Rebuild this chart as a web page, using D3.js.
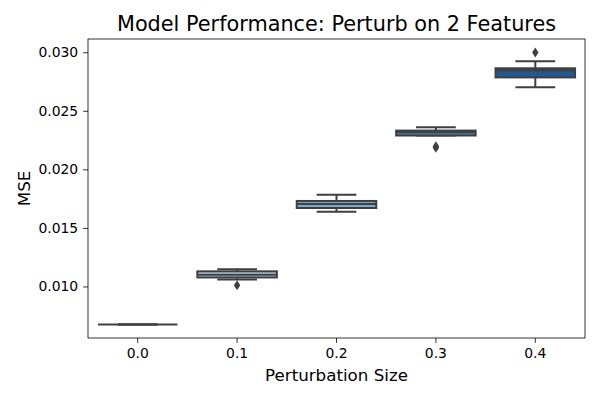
<!DOCTYPE html>
<html>
<head>
<meta charset="utf-8">
<script src="https://cdn.jsdelivr.net/npm/d3@7"></script>
<style>
  body { margin: 0; background: #fff; }
  text { font-family: "DejaVu Sans", sans-serif; fill: #000; }
</style>
</head>
<body>
<div id="chart"></div>
<script>
// data (box summaries per perturbation size)
var categories = ["0.0", "0.1", "0.2", "0.3", "0.4"];
var whiskerLow = [0.00676, 0.01060, 0.01638, 0.02288, 0.02700];
var q1 = [0.00676, 0.01077, 0.01670, 0.02289, 0.02785];
var median = [0.00676, 0.01100, 0.01704, 0.02316, 0.02846];
var q3 = [0.00676, 0.01129, 0.01730, 0.02331, 0.02863];
var whiskerHigh = [0.00676, 0.01146, 0.01784, 0.02359, 0.02923];
var outliers = [[], [0.01011], [], [0.02185, 0.02198], [0.02997]];
var boxColors = ["#dde8f3", "#b0cde0", "#79a9cc", "#4383b6", "#22578f"];
var yTicks = [0.010, 0.015, 0.020, 0.025, 0.030];

var W = 600, H = 400;
var margin = { top: 39, right: 15, bottom: 62, left: 88 };
var width = W - margin.left - margin.right;
var height = H - margin.top - margin.bottom;
var lineColor = "#3f3f3f";

var svg = d3.select("#chart").append("svg")
  .attr("width", W)
  .attr("height", H);

var g = svg.append("g")
  .attr("transform", "translate(" + margin.left + "," + margin.top + ")");

// y domain like matplotlib autoscale: data range plus 5% each side
var allVals = whiskerLow.concat(whiskerHigh, d3.merge(outliers));
var lo = d3.min(allVals), hi = d3.max(allVals);
var pad = (hi - lo) * 0.05;

var x = d3.scaleBand()
  .domain(categories)
  .range([0, width])
  .padding(0);

var y = d3.scaleLinear()
  .domain([lo - pad, hi + pad])
  .range([height, 0]);

var boxW = x.bandwidth() * 0.8;

var rows = categories.map(function(c, i) {
  return { cat: c, lo: whiskerLow[i], q1: q1[i], med: median[i], q3: q3[i],
           hi: whiskerHigh[i], out: outliers[i], color: boxColors[i] };
});

var box = g.selectAll(".box")
  .data(rows)
  .enter().append("g")
  .attr("class", "box")
  .attr("transform", function(d) {
    return "translate(" + (x(d.cat) + x.bandwidth() / 2) + ",0)";
  });

// whiskers
box.append("line")
  .attr("x1", 0).attr("x2", 0)
  .attr("y1", function(d) { return y(d.q3); })
  .attr("y2", function(d) { return y(d.hi); })
  .attr("stroke", lineColor).attr("stroke-width", 2);
box.append("line")
  .attr("x1", 0).attr("x2", 0)
  .attr("y1", function(d) { return y(d.q1); })
  .attr("y2", function(d) { return y(d.lo); })
  .attr("stroke", lineColor).attr("stroke-width", 2);

// caps
[function(d) { return y(d.hi); }, function(d) { return y(d.lo); }].forEach(function(fy) {
  box.append("line")
    .attr("x1", -boxW / 4).attr("x2", boxW / 4)
    .attr("y1", fy).attr("y2", fy)
    .attr("stroke", lineColor).attr("stroke-width", 2);
});

// boxes
box.append("rect")
  .attr("x", -boxW / 2)
  .attr("width", boxW)
  .attr("y", function(d) { return y(d.q3); })
  .attr("height", function(d) { return Math.max(0, y(d.q1) - y(d.q3)); })
  .attr("fill", function(d) { return d.color; })
  .attr("stroke", lineColor)
  .attr("stroke-width", 2);

// medians
box.append("line")
  .attr("x1", -boxW / 2).attr("x2", boxW / 2)
  .attr("y1", function(d) { return y(d.med); })
  .attr("y2", function(d) { return y(d.med); })
  .attr("stroke", lineColor).attr("stroke-width", 2);

// outliers (thin diamonds)
box.selectAll(".flier")
  .data(function(d) { return d.out; })
  .enter().append("path")
  .attr("class", "flier")
  .attr("d", function(v) {
    var cy = y(v);
    return "M0," + (cy - 5) + "L3.2," + cy + "L0," + (cy + 5) + "L-3.2," + cy + "Z";
  })
  .attr("fill", lineColor);

// axes
var xAxis = g.append("g")
  .attr("transform", "translate(0," + height + ")")
  .call(d3.axisBottom(x).tickSize(4.9).tickPadding(4.9));
var yAxis = g.append("g")
  .call(d3.axisLeft(y).tickValues(yTicks).tickFormat(d3.format(".3f")).tickSize(4.9).tickPadding(4.9));

[xAxis, yAxis].forEach(function(a) {
  a.select(".domain").remove();
  a.selectAll("line").attr("stroke", "#000").attr("stroke-width", 0.8);
  a.selectAll("text").attr("font-size", "13.9px").attr("fill", "#000")
    .style("font-family", "'DejaVu Sans', sans-serif");
});

// frame
g.append("rect")
  .attr("width", width).attr("height", height)
  .attr("fill", "none").attr("stroke", "#000").attr("stroke-width", 0.8);

// labels
svg.append("text")
  .attr("x", margin.left + width / 2)
  .attr("y", 31)
  .attr("text-anchor", "middle")
  .attr("font-size", "20.8px")
  .text("Model Performance: Perturb on 2 Features");

svg.append("text")
  .attr("x", margin.left + width / 2)
  .attr("y", 381)
  .attr("text-anchor", "middle")
  .attr("font-size", "16.7px")
  .text("Perturbation Size");

svg.append("text")
  .attr("transform", "translate(30," + (margin.top + height / 2) + ") rotate(-90)")
  .attr("text-anchor", "middle")
  .attr("font-size", "16.7px")
  .text("MSE");
</script>
</body>
</html>
